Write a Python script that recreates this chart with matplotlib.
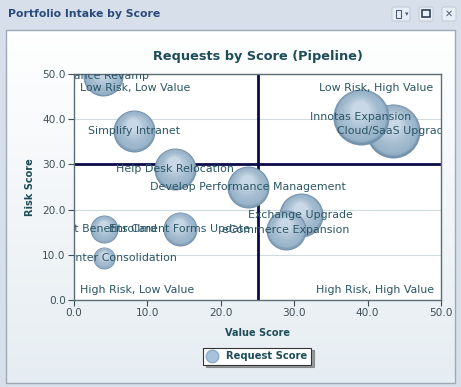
import numpy as np
import matplotlib
matplotlib.use("Agg")
import matplotlib.pyplot as plt
from matplotlib.patches import Rectangle, FancyBboxPatch
from matplotlib.lines import Line2D
from matplotlib.transforms import offset_copy
from matplotlib.colors import to_rgb

# -----------------------------
# Data
# -----------------------------
requests = ["Finance Revamp", "Simplify Intranet", "Help Desk Relocation",
            "Develop Performance Management", "Cloud/SaaS Upgrade",
            "Innotas Expansion", "Exchange Upgrade", "eCommerce Expansion",
            "Enrollment Forms Update", "Fleet Benefits Card",
            "Data Center Consolidation"]
value_score = [4.0, 8.2, 13.8, 23.7, 43.5, 39.1, 30.9, 28.9, 14.4, 4.1, 4.1]
risk_score = [49.5, 37.4, 29.0, 25.0, 37.4, 40.5, 18.8, 15.5, 15.7, 15.7, 9.3]
request_size = [20, 21, 21, 21, 27, 28, 22, 20, 17, 14, 11]

quadrants = ["Low Risk, Low Value", "Low Risk, High Value",
             "High Risk, Low Value", "High Risk, High Value"]
ticks = [0, 10, 20, 30, 40, 50]
value_split = 25
risk_split = 30

W, H = 461, 387
DPI = 100
fig = plt.figure(figsize=(W / DPI, H / DPI), dpi=DPI)

# -----------------------------
# Widget chrome (pixel coords)
# -----------------------------
bg = fig.add_axes([0, 0, 1, 1], zorder=-10)
bg.set_xlim(0, W)
bg.set_ylim(H, 0)
bg.axis("off")
bg.add_patch(Rectangle((0, 0), W, H, color="#d7e0ea"))
grad = np.linspace(0, 1, 100)[:, None]
top_c, bot_c = np.array(to_rgb("#e3e9f1")), np.array(to_rgb("#d2dce7"))
bg.imshow(top_c + (bot_c - top_c) * grad[..., None], extent=(0, W, 28, 0),
          aspect="auto")
top_c, bot_c = np.array(to_rgb("#ffffff")), np.array(to_rgb("#e6edf2"))
bg.imshow(top_c + (bot_c - top_c) * grad[..., None], extent=(6, 455, 383, 30),
          aspect="auto", zorder=2)
bg.add_patch(Rectangle((6, 30), 449, 353, fill=False, ec="#9ea9b5", lw=1, zorder=3))
bg.text(8, 14, "Portfolio Intake by Score", fontsize=7.8, fontweight="bold",
        color="#2b4a7c", va="center", family="DejaVu Sans")
for x0 in (392, 419, 442):
    w = 18 if x0 == 392 else 14
    bg.add_patch(FancyBboxPatch((x0, 7), w, 14, boxstyle="round,pad=0,rounding_size=2",
                                fc="#e8eef5", ec="#c3ceda", lw=0.8, zorder=3))
bg.add_patch(Rectangle((396, 10), 5, 8, fill=False, ec="#4d5f78", lw=0.8, zorder=4))
bg.text(405, 14, "\u25be", fontsize=5, color="#4d5f78", va="center", zorder=4)
bg.add_patch(Rectangle((422, 10), 8, 7, fill=False, ec="#2e3f5a", lw=1.2, zorder=4))
bg.text(449, 14, "\u2715", fontsize=7, color="#4d5f78", va="center", ha="center", zorder=4)

# -----------------------------
# Bubble chart
# -----------------------------
ax = fig.add_axes([74 / W, 1 - 300 / H, 367 / W, 226 / H])
ax.set_facecolor("white")
ax.set_xlim(0, 50)
ax.set_ylim(0, 50)
ax.set_xticks(ticks)
ax.set_yticks(ticks)
ax.set_xticklabels([f"{t:.1f}" for t in ticks])
ax.set_yticklabels([f"{t:.1f}" for t in ticks])
ax.tick_params(labelsize=7.6, colors="#3e5157", length=4, width=0.8, pad=2)
for s in ax.spines.values():
    s.set_color("#5d6d75")
    s.set_linewidth(1)
for t in ticks[1:-1]:
    if t != risk_split:
        ax.axhline(t, color="#cfdbe0", lw=0.8, zorder=0)
ax.axvline(value_split, color="#0b0b4a", lw=2, zorder=1)
ax.axhline(risk_split, color="#0b0b4a", lw=2, zorder=1)

# shaded spheres: stacked circles from dark rim to light highlight
edge_c = np.array(to_rgb("#7391ab"))
body_c = np.array(to_rgb("#9ab4ca"))
light_c = np.array(to_rgb("#c8d8e6"))
n_layers = 16
for i, (x, y, r) in enumerate(zip(value_score, risk_score, request_size)):
    R = r * 72 / DPI  # radius in points
    for k in range(n_layers):
        t = k / (n_layers - 1)
        scale = 1 - 0.7 * t
        tr = offset_copy(ax.transData, fig=fig, x=-0.05 * t * R, y=0.28 * t * R,
                         units="points")
        if t < 0.15:
            col = edge_c + (body_c - edge_c) * (t / 0.15)
        else:
            col = body_c + (light_c - body_c) * ((t - 0.15) / 0.85) ** 1.5
        ax.scatter([x], [y], s=(2 * R * scale) ** 2, color=col, lw=0,
                   transform=tr, zorder=2 + i * 0.05 + k * 0.001)

# bubble labels, clipped at the plot edge like the original
for name, x, y in zip(requests, value_score, risk_score):
    ax.text(x, y, name, ha="center", va="center", fontsize=7.9,
            color="#2a5665", zorder=5, clip_on=True, clip_box=ax.bbox)

qpos = [(0.015, 0.94, "left"), (0.98, 0.94, "right"),
        (0.015, 0.045, "left"), (0.98, 0.045, "right")]
for label, (qx, qy, ha) in zip(quadrants, qpos):
    ax.text(qx, qy, label, transform=ax.transAxes, ha=ha, va="center",
            fontsize=7.9, color="#2a5665", zorder=5)

ax.set_title("Requests by Score (Pipeline)", fontsize=9.3, fontweight="bold",
             color="#1d4d58", pad=10)
ax.set_xlabel("Value Score", fontsize=7, fontweight="bold", color="#1d4d58",
              labelpad=7)
ax.set_ylabel("Risk Score", fontsize=7, fontweight="bold", color="#1d4d58",
              labelpad=5)

handle = Line2D([], [], marker="o", ls="", markersize=9,
                markerfacecolor="#a9c2dc", markeredgecolor="#8eaacb")
leg = fig.legend([handle], ["Request Score"], loc="center",
                 bbox_to_anchor=(257 / W, 1 - 356 / H), frameon=True,
                 fancybox=False, shadow=True, edgecolor="#333333",
                 prop={"size": 7.2, "weight": "bold"}, handletextpad=0.8,
                 borderpad=0.35, handlelength=1.2)
leg.get_frame().set_linewidth(0.8)
for txt in leg.get_texts():
    txt.set_color("#1d4d58")

fig.savefig("out.png", dpi=DPI)
